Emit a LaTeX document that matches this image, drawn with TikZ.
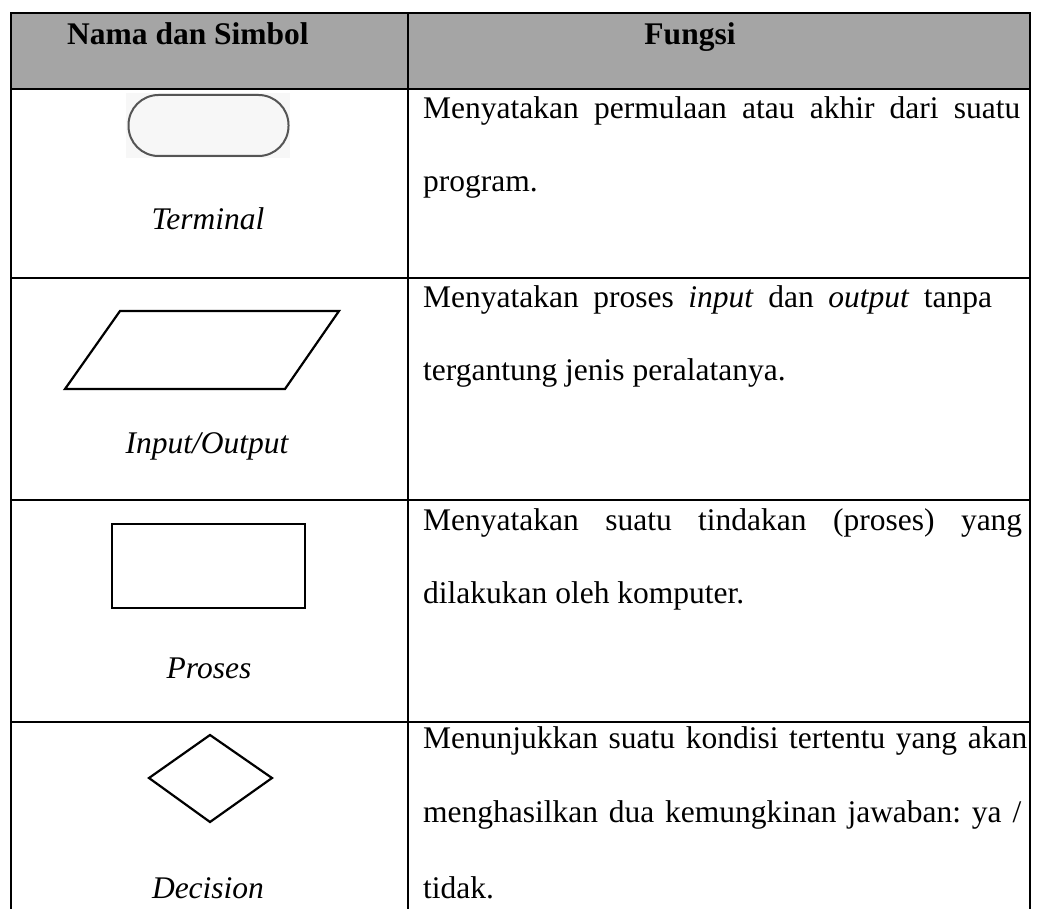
\documentclass[tikz,border=0pt]{standalone}
\usepackage{fontspec}
\setmainfont{Liberation Serif}
\frenchspacing
\definecolor{hdrgray}{RGB}{165,165,165}
\definecolor{termline}{RGB}{85,85,85}
\definecolor{termbg}{RGB}{247,247,247}
\begin{document}
\frenchspacing
\begin{tikzpicture}[x=1pt,y=-1pt,
  txt/.style={inner sep=0pt, anchor=base west, font=\fontsize{31.5}{38}\selectfont},
  lbl/.style={inner sep=0pt, anchor=base, font=\fontsize{31.5}{38}\selectfont\itshape},
  hdr/.style={inner sep=0pt, font=\fontsize{31.5}{38}\selectfont\bfseries},
  tblrule/.style={line width=2.6pt},
  sym/.style={line width=2.2pt, line join=miter}]
\useasboundingbox (0,0) rectangle (1038,909);
% header background
\fill[hdrgray] (11,13) rectangle (1030,89);
% table rules
\draw[tblrule] (11,909) -- (11,13) -- (1030,13) -- (1030,909);
\draw[tblrule] (408,13) -- (408,909);
\draw[tblrule] (11,89) -- (1030,89);
\draw[tblrule] (11,278) -- (1030,278);
\draw[tblrule] (11,500) -- (1030,500);
\draw[tblrule] (11,722) -- (1030,722);
% header texts
\node[hdr, anchor=base west] (h1) at (67,45) {Nama dan Simbol};
\node[hdr, anchor=base] (h2) at (690,45) {Fungsi};
% row 1: terminal
\fill[termbg] (126,93) rectangle (290,158);
\node[draw=termline, line width=2pt, rounded corners=30pt, minimum width=160pt, minimum height=61pt, inner sep=0pt] (term) at (208.5,125.5) {};
\node[lbl] (lterm) at (208,230) {Terminal};
\node[txt] (f1a) at (423,119) {\makebox[597pt][s]{Menyatakan permulaan atau akhir dari suatu}};
\node[txt] (f1b) at (423,192) {program.};
% row 2: input/output
\draw[sym] (120,311) -- (339,311) -- (285,389) -- (65,389) -- cycle;
\node[lbl] (lio) at (207,453) {Input/Output};
\node[txt] (f2a) at (423,307) {\makebox[569pt][s]{Menyatakan proses \textit{input} dan \textit{output} tanpa}};
\node[txt] (f2b) at (423,380) {tergantung jenis peralatanya.};
% row 3: proses
\draw[sym] (112,524) rectangle (305,608);
\node[lbl] (lpr) at (209,678) {Proses};
\node[txt] (f3a) at (423,530) {\makebox[599pt][s]{Menyatakan suatu tindakan (proses) yang}};
\node[txt] (f3b) at (423,603) {dilakukan oleh komputer.};
% row 4: decision
\draw[sym] (210,735) -- (272,778) -- (210,822) -- (149,778) -- cycle;
\node[lbl] (ldec) at (208,898) {Decision};
\node[txt] (f4a) at (423,748) {\makebox[604pt][s]{Menunjukkan suatu kondisi tertentu yang akan}};
\node[txt] (f4b) at (423,822) {\makebox[598pt][s]{menghasilkan dua kemungkinan jawaban: ya /}};
\node[txt] (f4c) at (423,898) {tidak.};
\end{tikzpicture}
\end{document}
